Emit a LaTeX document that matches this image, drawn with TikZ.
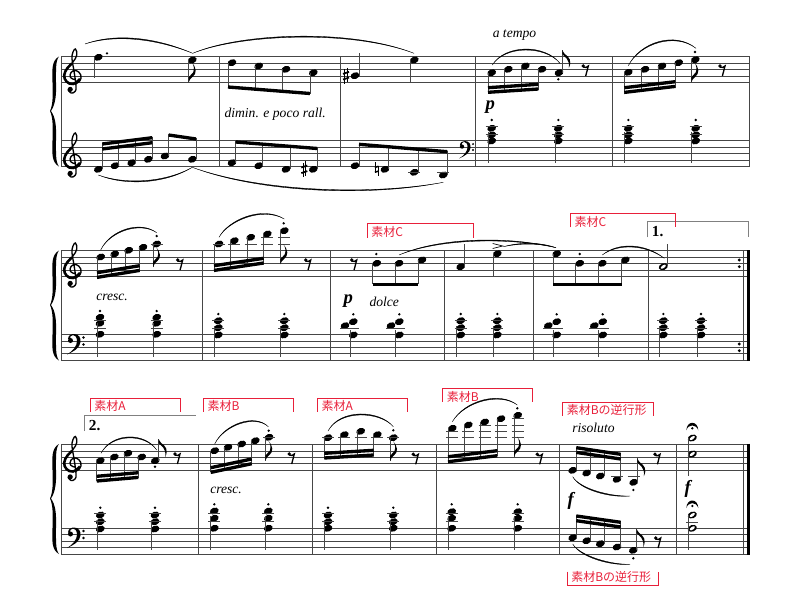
\documentclass[tikz,border=0pt]{standalone}
\usepackage{fontspec}
\setmainfont{Liberation Serif}
\newfontfamily\cjk{Noto Sans CJK JP}
\usepackage{xcolor}
\definecolor{ColMark}{RGB}{232,32,58}
\definecolor{ColLine}{RGB}{70,70,70}
\tikzstyle{StaffLine}=[ColLine,line width=.75pt]
\tikzstyle{BarThin}=[ColLine,line width=.75pt]
\tikzstyle{BarThick}=[black,line width=2.4pt]
\tikzstyle{StemLine}=[ColLine,line width=.7pt]
\tikzstyle{LedgerLine}=[ColLine,line width=.6pt]
\tikzstyle{BeamLine}=[black,line width=2.5pt]
\tikzstyle{SlurLine}=[fill=black,draw=black,line width=.25pt]
\tikzstyle{ClefLine}=[black,line width=1pt,line cap=round]
\tikzstyle{MarkLine}=[ColMark,line width=.75pt]
\tikzstyle{VoltaLine}=[gray,line width=.75pt]
\tikzstyle{ItalicText}=[anchor=west,inner sep=0pt,font=\fontsize{10.2}{12}\selectfont\itshape]
\tikzstyle{DynText}=[anchor=center,inner sep=0pt,font=\fontsize{14}{15}\selectfont\bfseries\itshape]
\tikzstyle{VoltaText}=[anchor=west,inner sep=0pt,font=\fontsize{11.5}{12}\selectfont\bfseries]
\tikzstyle{MarkText}=[anchor=west,inner sep=0pt,ColMark,font=\cjk\fontsize{9}{10}\selectfont]
\newcommand{\Head}[2]{\fill[shift={(#1,#2)},rotate=20] (0,0) ellipse (4.5 and 3.3);}
\newcommand{\Hollow}[2]{\fill[shift={(#1,#2)},rotate=20] (0,0) ellipse (4.7 and 3.3);
    \fill[white,shift={(#1,#2)},rotate=35] (0,0) ellipse (3 and 1.4);}
\newcommand{\NoteStem}[4]{\Head{#1}{#2}\draw[StemLine] (#3,#2)--(#3,#4);}
\newcommand{\Ledger}[2]{\draw[LedgerLine] ({#1-6},#2)--({#1+6},#2);}
\newcommand{\Dot}[2]{\fill (#1,#2) circle (1.3);}
\newcommand{\Chord}[6]{\foreach \yy in {#3}{\Head{#1}{\yy}}
    \foreach \yy in {#6}{\Ledger{#1}{\yy}}
    \Dot{#1}{#4}\draw[StemLine] (#2,#4+12)--(#2,#5);}
\newcommand{\Beam}[4]{\draw[BeamLine] (#1,#2)--(#3,#4);}
\newcommand{\Slur}[5]{\fill[SlurLine] (#1) .. controls (#2) and (#3) .. (#4)
    .. controls ([yshift=#5]#3) and ([yshift=#5]#2) .. (#1);}
\newcommand{\FlagDown}[2]{\fill[shift={(#1,#2)}] (0,0) .. controls (1,-5) and (7.5,-6) .. (7,-12)
    .. controls (6.8,-15) and (5,-18) .. (3,-20) .. controls (5.5,-17) and (5.5,-13) .. (4.5,-10)
    .. controls (3.5,-7) and (0,-7) .. (0,-5) -- cycle;}
\newcommand{\FlagUp}[2]{\fill[shift={(#1,#2)}] (0,0) -- (0,4) .. controls (2,7) and (8,9) .. (6.5,18)
    .. controls (10,11) and (7,7) .. (2.5,4) .. controls (1,2.5) and (.5,1) .. (0,0);}
\newcommand{\RestMark}[2]{\fill (#1,#2) circle (1.9);
    \draw[black,line width=1pt] (#1,{#2+1.2}) .. controls ({#1+2},{#2+1.8}) and ({#1+4},{#2+1.5}) .. ({#1+5},{#2})
    --({#1+2.4},{#2+10});}
\newcommand{\SharpMark}[2]{\begin{scope}[shift={(#1,#2)}]
    \draw[black,line width=.5pt] (-1.4,-6.5)--(-1.4,8) (1.4,-8)--(1.4,6.5);
    \draw[black,line width=1.3pt] (-3,-1.8)--(3,-3.8) (-3,3.8)--(3,1.8);
    \end{scope}}
\newcommand{\NaturalMark}[2]{\begin{scope}[shift={(#1,#2)}]
    \draw[black,line width=.5pt] (-1.8,-7)--(-1.8,3.5) (1.8,-3.5)--(1.8,7);
    \draw[black,line width=1.1pt] (-1.8,-1.8)--(1.8,-3) (-1.8,3)--(1.8,1.8);
    \end{scope}}
\newcommand{\Fermata}[2]{\fill[shift={(#1,#2)}] (-6,3) .. controls (-5.5,-7) and (5.5,-7) .. (6,3)
    .. controls (4,-3.5) and (-4,-3.5) .. (-6,3);\Dot{#1}{#2+1}}
\newcommand{\TrebleClef}[2]{\begin{scope}[shift={(#1,#2)}]
    \draw[ClefLine] plot[smooth,tension=.7] coordinates{(1.5,3.5)(-2.5,1.5)(-2,-3.5)(3,-5.5)(7.8,-1)(6.5,5.5)(0,8)(-6.5,5.5)(-8.8,-1)(-5.5,-8)(0,-14)(3.8,-21)(2.5,-27)(0,-24)(-1,-17)(1,-5)(3,10)(2,15.5)(-2,17)(-4.8,14)};
    \draw[black,line width=1.9pt] plot[smooth,tension=.7] coordinates{(7,3)(0,8)(-6.5,5.5)(-8.8,-1)(-5.5,-8)(-1,-12.5)};
    \fill (-2.8,13.4) circle (2.6);
    \end{scope}}
\newcommand{\BassClef}[3]{\begin{scope}[shift={(#1,#2)},scale=#3]
    \fill (-6,-2) .. controls (-6,-6) and (-2,-7) .. (0,-7) .. controls (5,-7) and (7,-3) .. (6.5,1)
    .. controls (6,7) and (-1,11) .. (-7,13.5) .. controls (-1,10) and (3,5) .. (3,0)
    .. controls (3,-4) and (1,-6) .. (-1,-6) .. controls (-3,-6) and (-4.5,-4) .. (-4,-2) -- cycle;
    \fill (-3.5,-.5) circle (2.5) (9.5,-3.5) circle (1.3) (9.5,3.5) circle (1.3);
    \end{scope}}
\newcommand{\Brace}[1]{\fill[shift={(0,#1)}] (59,0) .. controls (51.5,4) and (52,14) .. (52.5,26)
    .. controls (53,38) and (53,48) .. (50,54.5) .. controls (53,61) and (53,71) .. (52.5,84)
    .. controls (52,96) and (51.5,106) .. (59,110) .. controls (55.5,106) and (56,96) .. (56,84)
    .. controls (56.5,69) and (55.5,61) .. (51,54.5) .. controls (55.5,48) and (56.5,38) .. (56,26)
    .. controls (56,14) and (55.5,4) .. (59,0);}
\newcommand{\MarkBox}[8]{\draw[MarkLine] (#2,#5)--(#2,#4)--(#3,#4)--(#3,#5);
    \node[MarkText] (#1) at (#6,#7) {#8};}
\begin{document}
\begin{tikzpicture}[x=.75pt,y=-.75pt]
    \useasboundingbox (0,0) rectangle (800,600);
    % staves
    \foreach \yy in {56.5,63.5,69.5,76,82.5,140.5,147,153.5,160.5,166.5}{\draw[StaffLine] (61,\yy)--(750,\yy);}
    \foreach \yy in {250.5,257.5,263.5,270,276.5,334.5,341,347.5,353.5,360}{\draw[StaffLine] (61,\yy)--(750,\yy);}
    \foreach \yy in {444,451,457.5,463.5,470,528.5,534.5,541.5,547.5,554}{\draw[StaffLine] (61,\yy)--(750,\yy);}
    \foreach \xx in {61,219,340,475.5,612.5,749.5}{\draw[BarThin] (\xx,56.5)--(\xx,166.5);}
    \foreach \xx in {61,202,330.5,444.5,533.5,648,743}{\draw[BarThin] (\xx,250.5)--(\xx,360);}
    \foreach \xx in {61,198.5,312,436,559,676,743}{\draw[BarThin] (\xx,444)--(\xx,554);}
    \draw[BarThick] (748.5,250)--(748.5,360.5);
    \draw[BarThick] (748.5,443.5)--(748.5,554.5);
    \Brace{56.5}\Brace{250.5}\Brace{444}
    \TrebleClef{73}{76}\TrebleClef{73}{160}\TrebleClef{73}{270}\TrebleClef{73}{463.5}
    \BassClef{74}{341}{1}\BassClef{74}{534.5}{1}\BassClef{465}{147}{.85}
    % first system, upper
    \foreach \a/\b/\c/\d in {98.3/57.3/94.3/78.3,192.3/60/188.7/82.3,232/62.7/228/87,258.7/66/255.3/89,286/69.3/282.3/91.5,313.3/72.7/310/93.5,355/75.7/359/53.3,414.3/60/410.7/82.3,491.7/72.7/488/93.5,508.3/69.3/504.3/92,525.3/66/521.3/91,542/69.3/538.3/90,559/72.7/562.3/50,628.3/72.3/624.3/93.5,645/69.3/641.7/91.5,662/66/658.3/89.5,678.7/62.7/675.3/87.5,695.3/59.7/691.3/82.3}{\NoteStem{\a}{\b}{\c}{\d}}
    \Dot{107}{53.3}\Dot{558.3}{79.3}\Dot{695}{52}
    \FlagDown{188.7}{82.3}\FlagUp{562.3}{50}\FlagDown{691.3}{82.3}
    \Beam{228}{87}{310}{93.5}
    \Beam{488}{87.7}{538.3}{84.3}\Beam{488}{92.3}{538.3}{89}
    \Beam{624.3}{87.7}{675.3}{81.7}\Beam{624.3}{92.4}{675.3}{86.4}
    \SharpMark{346}{75.7}
    \RestMark{583.3}{66}\RestMark{720}{66}
    \Slur{85,44}{115,33}{155,37}{192.7,53.3}{-1pt}
    \Slur{192.7,53.3}{240,33}{350,28}{414,53.3}{-1pt}
    \Slur{492.3,65}{505,44}{545,44}{560,63.3}{-1pt}
    \Slur{628.3,65.7}{640,42}{675,31}{696,48.3}{-1pt}
    \node[ItalicText] (dimin) at (224.3,114.3) {dimin. e poco rall.};
    \node[ItalicText] (atempo) at (492.5,35.5) {a tempo};
    \node[DynText] (dynA) at (490.3,107.5) {p};
    % first system, lower
    \foreach \a/\b/\c/\d in {98.3/169.3/102.3/143,115/165.7/118.3/141,131.7/162.7/135.3/139,148.3/159.3/152.3/137,165/156/168.7/134,192.3/159.3/196/138,232/162.7/235.7/141,258.7/165.7/262.7/143,286/169.3/290/145,313.3/169.3/317.3/147.5,355/165.7/359/144,385/169.3/388.7/146,414.3/172.3/418.3/149,443.3/175/447.3/151}{\NoteStem{\a}{\b}{\c}{\d}}
    \Ledger{414.3}{172.5}\Ledger{443.3}{172.5}
    \Beam{102.3}{144}{152.3}{137.7}\Beam{102.3}{149}{152.3}{142.7}
    \Beam{168.7}{135}{196}{139}
    \Beam{235.7}{142}{317.3}{148.5}
    \Beam{359}{144.3}{447.3}{151.7}
    \SharpMark{304.3}{169.3}\NaturalMark{376.7}{169.3}
    \Slur{98.3,175}{125,186}{165,184}{192.3,167.3}{1pt}
    \Slur{192.3,167.3}{260,193}{370,197}{443.3,182.3}{1pt}
    \Chord{491.7}{488}{128.3,135,141}{120}{162.7}{126.7,134.3}
    \Chord{558.3}{555}{128.3,135,141}{120}{162.7}{126.7,134.3}
    \Chord{628.3}{624.3}{128.3,135,141}{120}{162.7}{126.7,134.3}
    \Chord{695.7}{691.3}{128.3,135,141}{120}{162.7}{126.7,134.3}
    % second system, upper
    \foreach \a/\b/\c/\d in {100.7/257/97/277.5,114.7/254/111/275,128.7/250.3/125.3/273,143/247.3/139.7/270.5,156.7/244/153/267,219/244/214/270.5,234.3/240.7/230.3/268,250.7/237.3/247/265.5,267.3/234/263.7/263,284.3/230.7/280.3/264.3,376.7/263.3/372.7/284,399/263.3/395.3/284,422/260/418.3/284,460.7/266.7/464/244.3,497.3/253.7/493.3/276,556.7/253.7/553.3/284,579.7/263.3/575.7/284,602.3/263.3/598.7/284,625.3/260/621.7/284}{\NoteStem{\a}{\b}{\c}{\d}}
    \foreach \a/\b in {156.7/244,219/244,234.3/244,250.7/244,267.3/244,267.3/237.5,284.3/244,284.3/237.5}{\Ledger{\a}{\b}}
    \FlagDown{153}{267}\FlagDown{280.3}{264.3}
    \Beam{97}{272.7}{139.7}{265.7}\Beam{97}{277.4}{139.7}{270.4}
    \Beam{214}{265.7}{263.7}{258.3}\Beam{214}{270.4}{263.7}{263}
    \Beam{372.7}{284.3}{418.3}{284.3}\Beam{553.3}{284.3}{621.7}{284.3}
    \Dot{156.7}{236}\Dot{283.7}{223.3}\Dot{376.3}{254}\Dot{579.7}{254}
    \RestMark{177.7}{260}\RestMark{305.7}{260}\RestMark{351.7}{260}
    \Slur{100.7,250}{110,230}{140,220}{156.7,232.7}{-1pt}
    \Slur{219,237.3}{228,220}{262,205}{284.3,219}{-1pt}
    \Slur{399,255}{440,237}{510,236}{556,247.7}{-1pt}
    \Slur{503.3,246.7}{520,242}{540,242}{556,247.7}{-.8pt}
    \Slur{602.3,255}{618,242}{645,243}{664.3,258.3}{-1pt}
    \draw[black,line width=.5pt] (492.7,243.5)--(502.7,246)--(492.7,248.5);
    \Hollow{663.3}{266.7}\draw[StemLine] (667.3,266)--(667.3,244.3);
    \fill (739.3,260) circle (1.6) (739.3,266.7) circle (1.6) (739.3,344) circle (1.6) (739.3,350.7) circle (1.6);
    \node[ItalicText] (crescA) at (96,297.3) {cresc.};
    \node[DynText] (dynB) at (348.3,300.7) {p};
    \node[ItalicText] (dolce) at (369.3,301.7) {dolce};
    \draw[VoltaLine] (647.7,237.3)--(647.7,221)--(748,221)--(748,237.3);
    \node[VoltaText] (voltaA) at (651.7,231.7) {1.};
    \MarkBox{matC}{367.3}{473.7}{223.7}{237.7}{371}{231.7}{素材C}
    \MarkBox{matD}{570}{675.7}{213.3}{227.3}{574.3}{221.7}{素材C}
    % second system, lower
    \Chord{100}{97}{317.3,323.3,334.3}{311}{356.7}{320.7,328.3}
    \Chord{156.7}{153}{317.3,323.3,334.3}{311}{356.7}{320.7,328.3}
    \Chord{218.3}{214}{320.7,327.7,335}{314}{356.7}{320.7,328}
    \Chord{284.3}{280.3}{320.7,327.7,335}{314}{356.7}{320.7,328}
    \Chord{460.7}{456.7}{320.7,327.7,335}{314}{356.7}{320.7,328}
    \Chord{497.3}{493.3}{320.7,327.7,335}{314}{356.7}{320.7,328}
    \Chord{663.3}{659.3}{320.7,327.7,335}{314}{356.7}{320.7,328}
    \Chord{701}{697.3}{320.7,327.7,335}{314}{356.7}{320.7,328}
    \foreach \a/\b/\c in {353.3/345/350,399.3/391/395.3,556.7/548.3/553.3,602.7/594.3/598.7}{
        \Head{\a}{321.7}\Head{\b}{325.7}\Head{\a}{335}\Dot{\a}{314.3}
        \draw[LedgerLine] (\b-5,328.3)--(\a+6,328.3);
        \draw[StemLine] (\c,330)--(\c,356.7);}
    % third system, upper
    \foreach \a/\b/\c/\d in {100.3/460.7/96.7/481,114.3/457/110.7/480,128/453.3/124.3/479,141.7/457/138.3/478,155.3/460.7/158.7/439,214.7/450.7/210.7/472,228/447.3/224.3/469.5,241.7/444/238/467,255.3/440.7/251.7/464,269/437.3/265.3/460.7,328/437.7/324.3/458.5,344.3/434.7/340.7/457.5,360.7/431.3/357/456.5,377.3/434.7/373.7/455.5,393.3/437.7/390/461,452.3/428.3/448/462,468.3/425/464.3/460,484.7/422/480.7/458,501/418.7/497.3/456,517.7/415.3/514/456.7,572.7/470.3/576.3/447,586.7/473/590.3/449,600.3/476/604/451,617/479.3/620.7/454,633.7/482.3/637.3/458.3}{\NoteStem{\a}{\b}{\c}{\d}}
    \foreach \a/\b in {269/437.5,328/437.7,344.3/437.7,360.7/437.7,377.3/437.7,393.3/437.7,452.3/437.7,452.3/431.3,468.3/437.7,468.3/431.3,484.7/437.7,484.7/431.3,484.7/425,501/437.7,501/431.3,501/425,517.7/437.7,517.7/431.3,517.7/425,517.7/418.7,617/476,633.7/476}{\Ledger{\a}{\b}}
    \FlagUp{158.7}{439}\FlagDown{265.3}{460.7}\FlagDown{390}{461}\FlagDown{514}{456.7}\FlagUp{637.3}{458.3}
    \Beam{96.7}{476.3}{138.3}{472.7}\Beam{96.7}{481}{138.3}{477.4}
    \Beam{210.7}{467.7}{251.7}{459}\Beam{210.7}{472.4}{251.7}{463.7}
    \Beam{324.3}{453.3}{373.7}{450.3}\Beam{324.3}{458}{373.7}{455}
    \Beam{448}{456.7}{497.3}{450.7}\Beam{448}{461.7}{497.3}{455.7}
    \Beam{576.3}{447.7}{620.7}{454.3}\Beam{576.3}{452.4}{620.7}{459}
    \Dot{155}{466.7}\Dot{268.7}{430.7}\Dot{393.3}{430.3}\Dot{517.3}{408.3}\Dot{633.3}{490}
    \RestMark{175}{454}\RestMark{289.3}{454}\RestMark{413.3}{454.3}\RestMark{537.3}{454.3}\RestMark{655}{454.3}
    \Slur{101,453.3}{112,432}{145,432}{156.7,450}{-1pt}
    \Slur{214.7,444}{224,424}{255,413}{268.3,426.7}{-1pt}
    \Slur{328,431}{340,408}{380,410}{393.3,426.7}{-1pt}
    \Slur{452.3,421.7}{465,400}{500,391}{517.3,405}{-1pt}
    \Slur{572.7,476.7}{580,490}{610,498}{630,496}{1pt}
    \node[ItalicText] (crescB) at (210,490.3) {cresc.};
    \node[ItalicText] (risoluto) at (572,427.7) {risoluto};
    \node[DynText] (dynC) at (570.7,501) {f};
    \draw[VoltaLine] (84.7,431)--(84.7,415.7)--(196,415.7);
    \node[VoltaText] (voltaB) at (88.7,425.7) {2.};
    \MarkBox{matA}{90}{180.3}{398.3}{411.7}{94}{406.3}{素材A}
    \MarkBox{matB}{203.3}{293.7}{398.3}{411.7}{207.3}{406.3}{素材B}
    \MarkBox{matE}{317.3}{407.7}{398.3}{411.7}{321.3}{406.3}{素材A}
    \MarkBox{matF}{442.3}{532.7}{388}{401.7}{446.7}{396.7}{素材B}
    \MarkBox{matG}{562.7}{653.3}{402.3}{415.7}{566.5}{409.7}{素材Bの逆行形}
    \MarkBox{matH}{567.3}{658.7}{585}{571.7}{571}{577.3}{素材Bの逆行形}
    % last bars
    \Hollow{692.3}{438}\Hollow{692.3}{454}
    \draw[StemLine] (688.7,438)--(688.7,476);
    \Fermata{692.3}{427.3}
    \node[DynText] (dynD) at (687.7,489) {f};
    \Fermata{692.3}{505}
    \Hollow{692.3}{515}\Hollow{692.3}{528.3}\Ledger{692.3}{522}
    \draw[StemLine] (688.7,515)--(688.7,550);
    % third system, lower
    \Chord{100.3}{97}{515,521.7,529}{507.7}{550}{513.3,521.7}
    \Chord{155}{151.3}{515,521.7,529}{507.7}{550}{513.3,521.7}
    \Chord{214.3}{210.7}{511,518.3,528.3}{504.3}{550}{513.3,521.7}
    \Chord{268.3}{265.3}{511,518.3,528.3}{504.3}{550}{513.3,521.7}
    \Chord{328}{324.3}{515,521.7,528.3}{507.7}{550}{513.3,521.7}
    \Chord{393.3}{390}{515,521.7,528.3}{507.7}{550}{513.3,521.7}
    \Chord{451.7}{448}{511.7,518.3,528.3}{504.3}{550}{513.3,521.7}
    \Chord{517.7}{514}{511.7,518.3,528.3}{504.3}{550}{513.3,521.7}
    \foreach \a/\b/\c/\d in {572.7/537.7/576.3/515,586.7/540.7/590.3/517,600.3/543.7/604/519,617/547/620.7/522,633.3/550.3/636.7/529}{\NoteStem{\a}{\b}{\c}{\d}}
    \FlagUp{636.7}{529}
    \Beam{576.3}{516}{620.7}{522.3}\Beam{576.3}{520.7}{620.7}{527}
    \Dot{633.3}{558.3}\RestMark{655.7}{538}
    \Slur{572.7,544}{580,557}{610,566}{630,564.3}{1pt}
\end{tikzpicture}
\end{document}
